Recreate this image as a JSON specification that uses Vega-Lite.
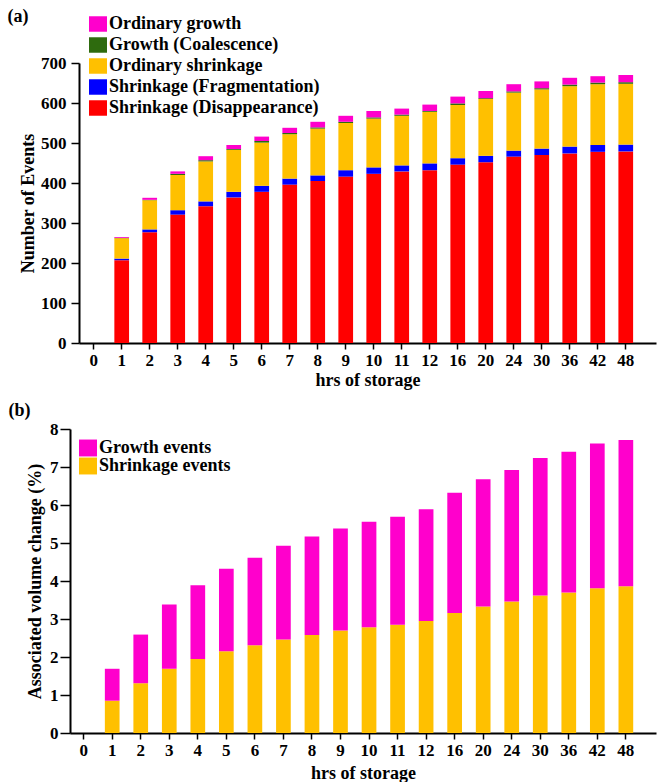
{
  "$schema": "https://vega.github.io/schema/vega-lite/v6.json",
  "background": "white",
  "padding": {"left": 7, "top": 8, "right": 5, "bottom": 0},
  "config": {
    "font": "Liberation Serif",
    "view": {"stroke": null},
    "axis": {
      "grid": false,
      "domainColor": "black",
      "domainWidth": 2,
      "tickColor": "black",
      "tickWidth": 1.5,
      "labelFont": "Liberation Serif",
      "labelFontSize": 17,
      "labelFontWeight": "bold",
      "labelColor": "black",
      "titleFont": "Liberation Serif",
      "titleFontSize": 18,
      "titleFontWeight": "bold",
      "titleColor": "black"
    },
    "legend": {
      "labelFont": "Liberation Serif",
      "labelFontSize": 18,
      "labelFontWeight": "bold",
      "labelColor": "black",
      "labelLimit": 400,
      "labelOffset": 2,
      "symbolStrokeWidth": 0,
      "symbolOpacity": 1
    },
    "title": {
      "font": "Liberation Serif",
      "fontSize": 18,
      "fontWeight": "bold",
      "color": "black",
      "anchor": "start",
      "frame": "bounds"
    }
  },
  "concat": [
    {
      "title": {"text": "(a)", "dx": -12, "dy": 15},
      "width": 586,
      "height": 280,
      "data": {
        "values": [
          {"hrs": 1, "event": "Shrinkage (Disappearance)", "n": 207},
          {"hrs": 1, "event": "Shrinkage (Fragmentation)", "n": 4},
          {"hrs": 1, "event": "Ordinary shrinkage", "n": 51},
          {"hrs": 1, "event": "Growth (Coalescence)", "n": 1},
          {"hrs": 1, "event": "Ordinary growth", "n": 2},
          {"hrs": 2, "event": "Shrinkage (Disappearance)", "n": 277},
          {"hrs": 2, "event": "Shrinkage (Fragmentation)", "n": 7},
          {"hrs": 2, "event": "Ordinary shrinkage", "n": 73},
          {"hrs": 2, "event": "Growth (Coalescence)", "n": 1},
          {"hrs": 2, "event": "Ordinary growth", "n": 5},
          {"hrs": 3, "event": "Shrinkage (Disappearance)", "n": 321},
          {"hrs": 3, "event": "Shrinkage (Fragmentation)", "n": 11},
          {"hrs": 3, "event": "Ordinary shrinkage", "n": 88},
          {"hrs": 3, "event": "Growth (Coalescence)", "n": 3},
          {"hrs": 3, "event": "Ordinary growth", "n": 6},
          {"hrs": 4, "event": "Shrinkage (Disappearance)", "n": 342},
          {"hrs": 4, "event": "Shrinkage (Fragmentation)", "n": 12},
          {"hrs": 4, "event": "Ordinary shrinkage", "n": 100},
          {"hrs": 4, "event": "Growth (Coalescence)", "n": 3},
          {"hrs": 4, "event": "Ordinary growth", "n": 10},
          {"hrs": 5, "event": "Shrinkage (Disappearance)", "n": 364},
          {"hrs": 5, "event": "Shrinkage (Fragmentation)", "n": 14},
          {"hrs": 5, "event": "Ordinary shrinkage", "n": 105},
          {"hrs": 5, "event": "Growth (Coalescence)", "n": 2},
          {"hrs": 5, "event": "Ordinary growth", "n": 10},
          {"hrs": 6, "event": "Shrinkage (Disappearance)", "n": 378},
          {"hrs": 6, "event": "Shrinkage (Fragmentation)", "n": 15},
          {"hrs": 6, "event": "Ordinary shrinkage", "n": 108},
          {"hrs": 6, "event": "Growth (Coalescence)", "n": 4},
          {"hrs": 6, "event": "Ordinary growth", "n": 11},
          {"hrs": 7, "event": "Shrinkage (Disappearance)", "n": 396},
          {"hrs": 7, "event": "Shrinkage (Fragmentation)", "n": 15},
          {"hrs": 7, "event": "Ordinary shrinkage", "n": 111},
          {"hrs": 7, "event": "Growth (Coalescence)", "n": 3},
          {"hrs": 7, "event": "Ordinary growth", "n": 13},
          {"hrs": 8, "event": "Shrinkage (Disappearance)", "n": 405},
          {"hrs": 8, "event": "Shrinkage (Fragmentation)", "n": 14},
          {"hrs": 8, "event": "Ordinary shrinkage", "n": 117},
          {"hrs": 8, "event": "Growth (Coalescence)", "n": 3},
          {"hrs": 8, "event": "Ordinary growth", "n": 14},
          {"hrs": 9, "event": "Shrinkage (Disappearance)", "n": 416},
          {"hrs": 9, "event": "Shrinkage (Fragmentation)", "n": 16},
          {"hrs": 9, "event": "Ordinary shrinkage", "n": 118},
          {"hrs": 9, "event": "Growth (Coalescence)", "n": 3},
          {"hrs": 9, "event": "Ordinary growth", "n": 15},
          {"hrs": 10, "event": "Shrinkage (Disappearance)", "n": 423},
          {"hrs": 10, "event": "Shrinkage (Fragmentation)", "n": 16},
          {"hrs": 10, "event": "Ordinary shrinkage", "n": 122},
          {"hrs": 10, "event": "Growth (Coalescence)", "n": 3},
          {"hrs": 10, "event": "Ordinary growth", "n": 16},
          {"hrs": 11, "event": "Shrinkage (Disappearance)", "n": 429},
          {"hrs": 11, "event": "Shrinkage (Fragmentation)", "n": 15},
          {"hrs": 11, "event": "Ordinary shrinkage", "n": 124},
          {"hrs": 11, "event": "Growth (Coalescence)", "n": 3},
          {"hrs": 11, "event": "Ordinary growth", "n": 15},
          {"hrs": 12, "event": "Shrinkage (Disappearance)", "n": 432},
          {"hrs": 12, "event": "Shrinkage (Fragmentation)", "n": 17},
          {"hrs": 12, "event": "Ordinary shrinkage", "n": 129},
          {"hrs": 12, "event": "Growth (Coalescence)", "n": 2},
          {"hrs": 12, "event": "Ordinary growth", "n": 16},
          {"hrs": 16, "event": "Shrinkage (Disappearance)", "n": 446},
          {"hrs": 16, "event": "Shrinkage (Fragmentation)", "n": 16},
          {"hrs": 16, "event": "Ordinary shrinkage", "n": 133},
          {"hrs": 16, "event": "Growth (Coalescence)", "n": 4},
          {"hrs": 16, "event": "Ordinary growth", "n": 17},
          {"hrs": 20, "event": "Shrinkage (Disappearance)", "n": 452},
          {"hrs": 20, "event": "Shrinkage (Fragmentation)", "n": 16},
          {"hrs": 20, "event": "Ordinary shrinkage", "n": 142},
          {"hrs": 20, "event": "Growth (Coalescence)", "n": 2},
          {"hrs": 20, "event": "Ordinary growth", "n": 18},
          {"hrs": 24, "event": "Shrinkage (Disappearance)", "n": 466},
          {"hrs": 24, "event": "Shrinkage (Fragmentation)", "n": 15},
          {"hrs": 24, "event": "Ordinary shrinkage", "n": 145},
          {"hrs": 24, "event": "Growth (Coalescence)", "n": 3},
          {"hrs": 24, "event": "Ordinary growth", "n": 18},
          {"hrs": 30, "event": "Shrinkage (Disappearance)", "n": 470},
          {"hrs": 30, "event": "Shrinkage (Fragmentation)", "n": 16},
          {"hrs": 30, "event": "Ordinary shrinkage", "n": 148},
          {"hrs": 30, "event": "Growth (Coalescence)", "n": 3},
          {"hrs": 30, "event": "Ordinary growth", "n": 17},
          {"hrs": 36, "event": "Shrinkage (Disappearance)", "n": 474},
          {"hrs": 36, "event": "Shrinkage (Fragmentation)", "n": 17},
          {"hrs": 36, "event": "Ordinary shrinkage", "n": 151},
          {"hrs": 36, "event": "Growth (Coalescence)", "n": 4},
          {"hrs": 36, "event": "Ordinary growth", "n": 17},
          {"hrs": 42, "event": "Shrinkage (Disappearance)", "n": 478},
          {"hrs": 42, "event": "Shrinkage (Fragmentation)", "n": 17},
          {"hrs": 42, "event": "Ordinary shrinkage", "n": 152},
          {"hrs": 42, "event": "Growth (Coalescence)", "n": 4},
          {"hrs": 42, "event": "Ordinary growth", "n": 16},
          {"hrs": 48, "event": "Shrinkage (Disappearance)", "n": 479},
          {"hrs": 48, "event": "Shrinkage (Fragmentation)", "n": 17},
          {"hrs": 48, "event": "Ordinary shrinkage", "n": 152},
          {"hrs": 48, "event": "Growth (Coalescence)", "n": 4},
          {"hrs": 48, "event": "Ordinary growth", "n": 18}
        ]
      },
      "transform": [
        {"calculate": "indexof(['Shrinkage (Disappearance)', 'Shrinkage (Fragmentation)', 'Ordinary shrinkage', 'Growth (Coalescence)', 'Ordinary growth'], datum.event)", "as": "stackRank"}
      ],
      "mark": {"type": "bar"},
      "encoding": {
        "x": {
          "field": "hrs",
          "type": "ordinal",
          "scale": {
            "domain": [0, 1, 2, 3, 4, 5, 6, 7, 8, 9, 10, 11, 12, 16, 20, 24, 30, 36, 42, 48],
            "range": [9, 586],
            "paddingInner": 0.475,
            "paddingOuter": 0.54,
            "align": 0.243
          },
          "axis": {"title": "hrs of storage", "labelAngle": 0, "tickSize": 6, "labelPadding": 3, "titlePadding": 3}
        },
        "y": {
          "field": "n",
          "type": "quantitative",
          "stack": "zero",
          "scale": {"domain": [0, 700], "nice": false},
          "axis": {"title": "Number of Events", "values": [0, 100, 200, 300, 400, 500, 600, 700], "offset": -9, "tickSize": 8, "labelPadding": 5, "titlePadding": 3}
        },
        "color": {
          "field": "event",
          "type": "nominal",
          "scale": {
            "domain": ["Ordinary growth", "Growth (Coalescence)", "Ordinary shrinkage", "Shrinkage (Fragmentation)", "Shrinkage (Disappearance)"],
            "range": ["#ff00cc", "#2e6b0e", "#ffc000", "#0000ff", "#ff0000"]
          },
          "legend": {
            "title": null,
            "orient": "none",
            "legendX": 19,
            "legendY": -48,
            "symbolType": "M-1,-0.86H1V0.86H-1Z",
            "symbolSize": 324,
            "rowPadding": 3
          }
        },
        "order": {"field": "stackRank", "type": "quantitative"}
      }
    },
    {
      "title": {"text": "(b)", "dx": -18, "dy": 4},
      "width": 586,
      "height": 304,
      "data": {
        "values": [
          {"hrs": 1, "event": "Shrinkage events", "pct": 0.85},
          {"hrs": 1, "event": "Growth events", "pct": 0.84},
          {"hrs": 2, "event": "Shrinkage events", "pct": 1.31},
          {"hrs": 2, "event": "Growth events", "pct": 1.28},
          {"hrs": 3, "event": "Shrinkage events", "pct": 1.69},
          {"hrs": 3, "event": "Growth events", "pct": 1.69},
          {"hrs": 4, "event": "Shrinkage events", "pct": 1.95},
          {"hrs": 4, "event": "Growth events", "pct": 1.94},
          {"hrs": 5, "event": "Shrinkage events", "pct": 2.15},
          {"hrs": 5, "event": "Growth events", "pct": 2.17},
          {"hrs": 6, "event": "Shrinkage events", "pct": 2.31},
          {"hrs": 6, "event": "Growth events", "pct": 2.30},
          {"hrs": 7, "event": "Shrinkage events", "pct": 2.46},
          {"hrs": 7, "event": "Growth events", "pct": 2.47},
          {"hrs": 8, "event": "Shrinkage events", "pct": 2.58},
          {"hrs": 8, "event": "Growth events", "pct": 2.59},
          {"hrs": 9, "event": "Shrinkage events", "pct": 2.70},
          {"hrs": 9, "event": "Growth events", "pct": 2.68},
          {"hrs": 10, "event": "Shrinkage events", "pct": 2.78},
          {"hrs": 10, "event": "Growth events", "pct": 2.78},
          {"hrs": 11, "event": "Shrinkage events", "pct": 2.85},
          {"hrs": 11, "event": "Growth events", "pct": 2.84},
          {"hrs": 12, "event": "Shrinkage events", "pct": 2.95},
          {"hrs": 12, "event": "Growth events", "pct": 2.94},
          {"hrs": 16, "event": "Shrinkage events", "pct": 3.16},
          {"hrs": 16, "event": "Growth events", "pct": 3.16},
          {"hrs": 20, "event": "Shrinkage events", "pct": 3.33},
          {"hrs": 20, "event": "Growth events", "pct": 3.35},
          {"hrs": 24, "event": "Shrinkage events", "pct": 3.46},
          {"hrs": 24, "event": "Growth events", "pct": 3.46},
          {"hrs": 30, "event": "Shrinkage events", "pct": 3.62},
          {"hrs": 30, "event": "Growth events", "pct": 3.62},
          {"hrs": 36, "event": "Shrinkage events", "pct": 3.70},
          {"hrs": 36, "event": "Growth events", "pct": 3.70},
          {"hrs": 42, "event": "Shrinkage events", "pct": 3.81},
          {"hrs": 42, "event": "Growth events", "pct": 3.81},
          {"hrs": 48, "event": "Shrinkage events", "pct": 3.86},
          {"hrs": 48, "event": "Growth events", "pct": 3.85}
        ]
      },
      "transform": [
        {"calculate": "indexof(['Shrinkage events', 'Growth events'], datum.event)", "as": "stackRank"}
      ],
      "mark": {"type": "bar"},
      "encoding": {
        "x": {
          "field": "hrs",
          "type": "ordinal",
          "scale": {
            "domain": [0, 1, 2, 3, 4, 5, 6, 7, 8, 9, 10, 11, 12, 16, 20, 24, 30, 36, 42, 48],
            "paddingInner": 0.485,
            "paddingOuter": 0.51,
            "align": 0.217
          },
          "axis": {"title": "hrs of storage", "labelAngle": 0, "tickSize": 6, "labelPadding": 3, "titlePadding": 6}
        },
        "y": {
          "field": "pct",
          "type": "quantitative",
          "stack": "zero",
          "scale": {"domain": [0, 8], "nice": false},
          "axis": {"title": "Associated volume change (%)", "values": [0, 1, 2, 3, 4, 5, 6, 7, 8], "tickSize": 10, "labelPadding": 2, "titlePadding": 5}
        },
        "color": {
          "field": "event",
          "type": "nominal",
          "scale": {
            "domain": ["Growth events", "Shrinkage events"],
            "range": ["#ff00cc", "#ffc000"]
          },
          "legend": {
            "title": null,
            "orient": "none",
            "legendX": 9,
            "legendY": 10,
            "symbolType": "M-1,-0.94H1V0.94H-1Z",
            "symbolSize": 324,
            "rowPadding": 0
          }
        },
        "order": {"field": "stackRank", "type": "quantitative"}
      }
    }
  ],
  "columns": 1,
  "align": "none",
  "spacing": 13,
  "resolve": {"scale": {"color": "independent"}, "legend": {"color": "independent"}}
}
